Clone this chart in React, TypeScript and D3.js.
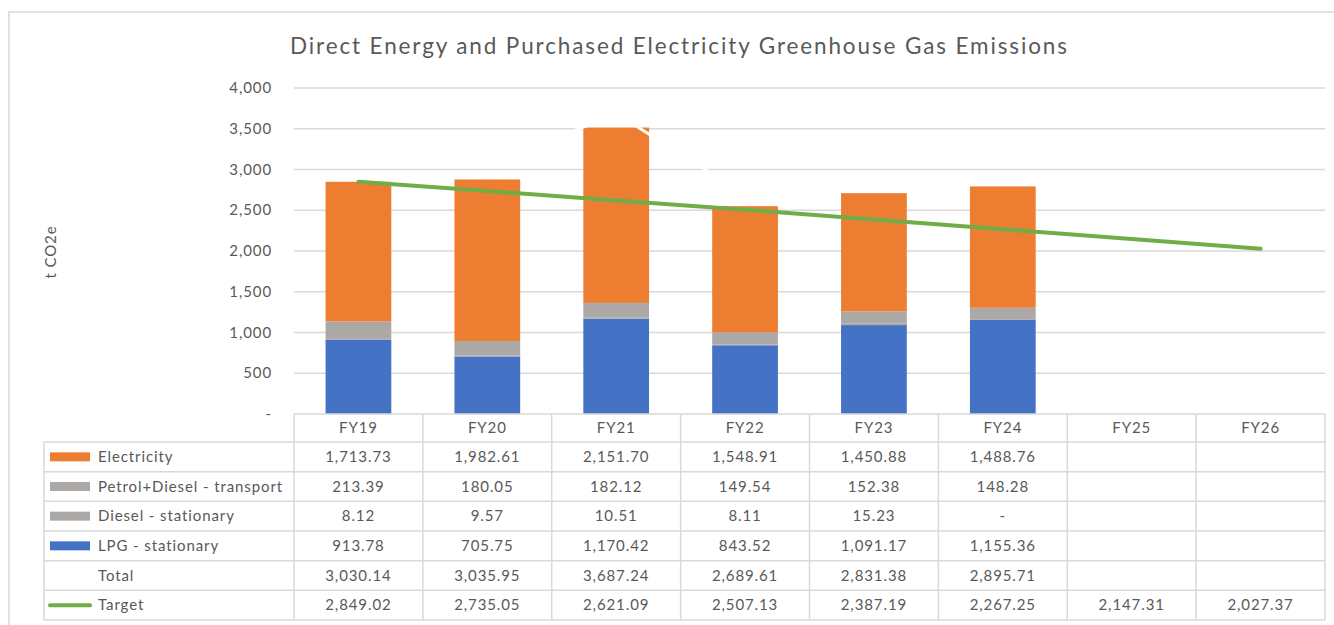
import React from "react";
import * as d3 from "d3";

const years = ["FY19", "FY20", "FY21", "FY22", "FY23", "FY24", "FY25", "FY26"];
const electricity = [1713.73, 1982.61, 2151.7, 1548.91, 1450.88, 1488.76, null, null];
const petrolDiesel = [213.39, 180.05, 182.12, 149.54, 152.38, 148.28, null, null];
const dieselStationary = [8.12, 9.57, 10.51, 8.11, 15.23, 0, null, null];
const lpg = [913.78, 705.75, 1170.42, 843.52, 1091.17, 1155.36, null, null];
const total = [3030.14, 3035.95, 3687.24, 2689.61, 2831.38, 2895.71, null, null];
const target = [2849.02, 2735.05, 2621.09, 2507.13, 2387.19, 2267.25, 2147.31, 2027.37];
const yTicks = [0, 500, 1000, 1500, 2000, 2500, 3000, 3500, 4000];

const W = 1334;
const H = 625;
const FONT = "Lato, 'Open Sans', sans-serif";
const TXT = "#595959";
const GRID = "#d9d9d9";
const LS = 0.9; // letter spacing, Calibri-ish width

// stacked from bottom up
const stackSeries = [
  { name: "LPG - stationary", values: lpg, color: "#4472C4" },
  { name: "Diesel - stationary", values: dieselStationary, color: "#ABA8A6" },
  { name: "Petrol+Diesel - transport", values: petrolDiesel, color: "#ABA8A6" },
  { name: "Electricity", values: electricity, color: "#ED7D31" },
];

// table rows, top to bottom
const tableRows = [
  { name: "Electricity", values: electricity, key: "bar", color: "#ED7D31" },
  { name: "Petrol+Diesel - transport", values: petrolDiesel, key: "bar", color: "#ABA8A6" },
  { name: "Diesel - stationary", values: dieselStationary, key: "bar", color: "#ABA8A6" },
  { name: "LPG - stationary", values: lpg, key: "bar", color: "#4472C4" },
  { name: "Total", values: total, key: "none", color: "#ffffff" },
  { name: "Target", values: target, key: "line", color: "#70AD47" },
];

const fmt = (v: number | null) => {
  if (v === null) return "";
  if (v === 0) return "-";
  return d3.format(",.2f")(v);
};

export default function App() {
  const plotLeft = 294;
  const plotRight = 1325;
  const y = d3.scaleLinear().domain([0, 4000]).range([414, 88]);
  const x = d3.scaleBand().domain(years).range([plotLeft, plotRight]).padding(0);
  const bw = x.bandwidth();
  const barW = bw * 0.51;
  const cx = (yr: string) => (x(yr) as number) + bw / 2;

  const stackData = years.map((yr, i) => {
    const row: any = { year: yr };
    stackSeries.forEach((s) => (row[s.name] = s.values[i] ?? 0));
    return row;
  });
  const stacked = d3.stack().keys(stackSeries.map((s) => s.name))(stackData);

  const lineGen = d3
    .line<[string, number | null]>()
    .defined((d) => d[1] !== null)
    .x((d) => cx(d[0]))
    .y((d) => y(d[1] as number));

  const headerTop = 414;
  const headerBottom = 442;
  const tableBottom = 620;
  const rowH = (tableBottom - headerBottom) / tableRows.length;
  const legendLeft = 44;

  return (
    <svg
      width={W}
      height={H}
      style={{ position: "absolute", left: 0, top: 0, background: "#fff" }}
    >
      <rect x={0} y={0} width={W} height={H} fill="#fff" />
      <rect x={9} y={12} width={W} height={H} fill="none" stroke={GRID} strokeWidth={1.5} />

      <text
        x={290}
        y={54}
        fontFamily={FONT}
        fontSize={22.5}
        fill={TXT}
        textLength={777}
        lengthAdjust="spacing"
      >
        Direct Energy and Purchased Electricity Greenhouse Gas Emissions
      </text>

      <text
        transform={`translate(56,252) rotate(-90)`}
        textAnchor="middle"
        fontFamily={FONT}
        fontSize={15}
        letterSpacing={LS}
        fill={TXT}
      >
        t CO2e
      </text>

      {/* gridlines and y labels */}
      {yTicks.map((t) => (
        <g key={t}>
          {t > 0 && (
            <line x1={plotLeft} x2={plotRight} y1={y(t)} y2={y(t)} stroke={GRID} strokeWidth={1.5} />
          )}
          <text
            x={272}
            y={y(t) + 5}
            textAnchor="end"
            fontFamily={FONT}
            fontSize={15}
            letterSpacing={LS}
            fill={TXT}
          >
            {t === 0 ? "-" : d3.format(",")(t)}
          </text>
        </g>
      ))}

      {/* stacked bars */}
      {stacked.map((layer, li) => (
        <g key={layer.key} fill={stackSeries[li].color}>
          {layer.map((d, i) =>
            d[1] - d[0] > 0 ? (
              <rect
                key={years[i]}
                x={cx(years[i]) - barW / 2}
                width={barW}
                y={y(d[1])}
                height={y(d[0]) - y(d[1])}
              />
            ) : null
          )}
        </g>
      ))}

      {/* total drawn as a white line */}
      <path
        d={lineGen(years.map((yr, i) => [yr, total[i]])) || ""}
        fill="none"
        stroke="#ffffff"
        strokeWidth={3}
        strokeLinecap="round"
      />
      <path
        d={lineGen(years.map((yr, i) => [yr, target[i]])) || ""}
        fill="none"
        stroke="#70AD47"
        strokeWidth={4}
        strokeLinecap="round"
      />

      {/* data table */}
      <g stroke={GRID} strokeWidth={1.5}>
        <line x1={plotLeft} x2={plotRight} y1={headerTop} y2={headerTop} />
        {tableRows.map((_, r) => (
          <line
            key={r}
            x1={legendLeft}
            x2={plotRight}
            y1={headerBottom + r * rowH}
            y2={headerBottom + r * rowH}
          />
        ))}
        <line x1={legendLeft} x2={plotRight} y1={tableBottom} y2={tableBottom} />
        <line x1={legendLeft} x2={legendLeft} y1={headerBottom} y2={tableBottom} />
        {years.map((yr) => (
          <line key={yr} x1={x(yr)} x2={x(yr)} y1={headerTop} y2={tableBottom} />
        ))}
        <line x1={plotRight} x2={plotRight} y1={headerTop} y2={tableBottom} />
      </g>

      {years.map((yr) => (
        <text
          key={yr}
          x={cx(yr)}
          y={(headerTop + headerBottom) / 2 + 5}
          textAnchor="middle"
          fontFamily={FONT}
          fontSize={15}
          letterSpacing={LS}
          fill={TXT}
        >
          {yr}
        </text>
      ))}

      {tableRows.map((row, r) => {
        const mid = headerBottom + r * rowH + rowH / 2;
        return (
          <g key={row.name}>
            {row.key === "bar" && (
              <rect x={50} y={mid - 4.5} width={40} height={9} fill={row.color} />
            )}
            {row.key === "line" && (
              <line
                x1={50}
                x2={90}
                y1={mid}
                y2={mid}
                stroke={row.color}
                strokeWidth={4}
                strokeLinecap="round"
              />
            )}
            <text
              x={98}
              y={mid + 5}
              fontFamily={FONT}
              fontSize={15}
              letterSpacing={LS}
              fill={TXT}
            >
              {row.name}
            </text>
            {years.map((yr, i) => (
              <text
                key={yr}
                x={cx(yr)}
                y={mid + 5}
                textAnchor="middle"
                fontFamily={FONT}
                fontSize={15}
                letterSpacing={LS}
                fill={TXT}
              >
                {fmt(row.values[i])}
              </text>
            ))}
          </g>
        );
      })}
    </svg>
  );
}
